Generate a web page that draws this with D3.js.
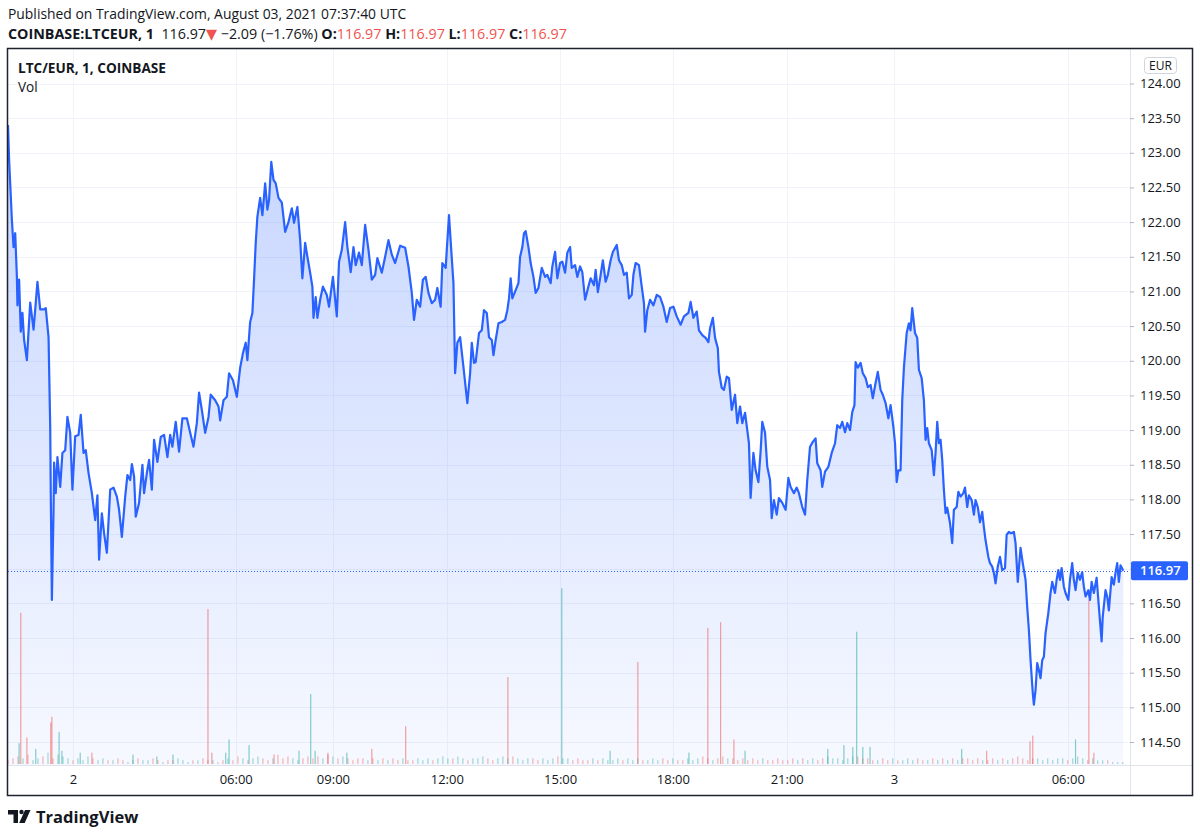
<!DOCTYPE html>
<meta charset="utf-8">
<script src="https://cdnjs.cloudflare.com/ajax/libs/d3/7.8.5/d3.min.js"></script>
<style>
  body { margin: 0; background: #fff; }
  text { font-family: "Open Sans", "DejaVu Sans", sans-serif; fill: #131722; }
</style>
<div id="chart"></div>
<script>

// price samples: [bar number, close]
const priceA = [[0,123.40],[2,122.90],[7,122.03],[10,121.64],[13,121.84],[16,121.21],[17,120.80],[20,121.17],[23,120.42],[26,120.69],[29,120.30],[34,120.01],[40,120.84],[46,120.45],[50,120.84],[53,121.14],[58,120.74],[64,120.74],[68,120.76],[73,120.34],[76,119.05],[77,118.09],[79,116.55],[82,117.85],[83,118.53],[86,118.09],[89,118.61],[94,118.18],[98,118.67],[103,118.71],[107,119.19],[112,118.96],[116,118.14],[121,118.91],[127,118.93],[131,119.22],[136,118.67],[140,118.71],[145,118.38],[151,118.09],[157,117.70],[161,118.06],[164,117.13],[169,117.80],[173,117.51],[178,117.23],[184,118.14],[190,118.17],[196,118.04],[200,117.85],[205,117.46],[211,118.04],[215,118.35],[220,118.28],[223,118.51],[227,118.33],[230,117.75],[236,117.95],[242,118.50],[245,118.09],[250,118.38],[254,118.57],[259,118.14],[263,118.86],[269,118.54],[275,118.90],[281,118.93],[287,118.61],[292,118.93],[296,118.76],[302,119.12],[308,118.69],[314,119.17],[322,119.17],[328,118.96],[334,118.76],[340,119.10],[344,119.54],[349,119.29],[355,118.96],[361,119.19],[365,119.51],[373,119.43],[379,119.34],[382,119.14],[388,119.43],[394,119.48],[398,119.82]]
const priceB = [[405,119.72],[412,119.48],[418,119.90],[423,120.11],[428,120.26],[431,120.01],[436,120.56],[440,120.69],[443,121.17],[446,121.70],[449,122.08],[454,122.35],[458,122.10],[463,122.56],[467,122.18],[470,122.32],[474,122.87],[478,122.61],[482,122.56],[487,122.35],[493,122.28],[499,121.86],[505,122.00],[511,122.20],[515,121.99],[521,122.22],[526,121.74],[530,121.19],[535,121.70],[539,121.50],[544,121.27],[548,121.07],[550,120.62],[554,120.92],[557,120.62],[562,120.88],[567,121.07],[574,120.95],[578,120.78],[585,121.21],[592,120.64],[596,121.43],[601,121.60],[607,122.00],[611,121.64],[617,121.28],[622,121.64],[626,121.38],[632,121.56],[637,121.38],[643,121.96],[649,121.60],[655,121.17],[661,121.24],[665,121.48],[673,121.27],[679,121.50],[685,121.74],[691,121.53],[697,121.41],[706,121.66],[715,121.63],[721,121.36],[727,120.98],[731,120.59],[736,120.88],[742,120.78],[747,121.17],[752,121.21],[757,120.98],[763,120.83],[769,120.88],[773,121.05],[779,120.78],[782,121.41],[788,121.34],[790,121.60],[794,122.10],[798,121.60],[802,121.12],[805,119.82],[809,120.26],[814,120.34]]
const priceC = [[820,119.91],[827,119.39],[832,119.82],[835,120.26],[839,119.97],[842,119.98],[848,120.40],[853,120.44],[857,120.73],[862,120.69],[866,120.34],[871,120.30],[874,120.08],[878,120.30],[883,120.54],[889,120.56],[895,120.59],[899,120.73],[902,120.90],[905,121.19],[908,120.90],[914,121.02],[919,121.12],[922,121.50],[926,121.64],[929,121.84],[932,121.87],[937,121.64],[941,121.41],[946,121.21],[950,120.98],[955,121.05],[961,121.34],[967,121.21],[971,121.24],[977,121.12],[980,121.36],[985,121.57],[989,121.19],[994,121.41],[998,121.43],[1003,121.27],[1007,121.56],[1012,121.64],[1015,121.34],[1021,121.38],[1025,121.21],[1030,121.36],[1034,121.28],[1039,120.88],[1045,121.07],[1049,121.19],[1055,121.09],[1058,121.31],[1062,120.99],[1067,121.24],[1071,121.45],[1076,121.14],[1080,121.24],[1085,121.45],[1089,121.57],[1096,121.67],[1100,121.45],[1105,121.38],[1109,121.24],[1114,121.27],[1118,120.90],[1123,120.95],[1126,121.24],[1130,121.41],[1136,121.38],[1141,121.07],[1145,120.83],[1147,120.42],[1151,120.73],[1156,120.88],[1162,120.80],[1168,120.95],[1174,120.92],[1180,120.78],[1186,120.56],[1192,120.76],[1198,120.78],[1204,120.64],[1211,120.52],[1217,120.64],[1225,120.69],[1229,120.85]]
const priceD = [[1234,120.62],[1240,120.71],[1244,120.44],[1250,120.37],[1256,120.33],[1261,120.27],[1264,120.47],[1269,120.62],[1273,120.33],[1278,120.18],[1280,119.84],[1285,119.61],[1289,119.58],[1294,119.77],[1298,119.75],[1303,119.29],[1309,119.51],[1313,119.10],[1318,119.34],[1322,119.10],[1327,119.25],[1331,119.00],[1334,118.81],[1337,118.02],[1342,118.67],[1346,118.42],[1351,118.25],[1355,118.69],[1358,119.12],[1363,118.96],[1367,118.47],[1372,118.28],[1375,117.73],[1379,117.99],[1384,117.78],[1388,118.02],[1394,117.95],[1400,117.85],[1405,118.31],[1409,118.18],[1415,118.09],[1420,118.17],[1424,118.09],[1430,117.89],[1435,117.78],[1439,118.28],[1444,118.76],[1449,118.83],[1454,118.88],[1457,118.52],[1463,118.42],[1466,118.18],[1471,118.40],[1477,118.47],[1483,118.67],[1489,118.81],[1493,119.07],[1498,119.03],[1502,119.12],[1507,118.97],[1511,119.10],[1516,119.00],[1520,119.26],[1524,119.36],[1526,119.98],[1530,119.90],[1535,119.97],[1539,119.82],[1544,119.75],[1548,119.62],[1553,119.65],[1557,119.46],[1562,119.68],[1566,119.84],[1571,119.58],[1575,119.51],[1580,119.39],[1585,119.17],[1589,119.36],[1594,119.05],[1597,118.81],[1600,118.25],[1603,118.42],[1607,118.42],[1610,119.43],[1613,119.90],[1618,120.40],[1622,120.54],[1625,120.44],[1628,120.76],[1633,120.40],[1637,120.33],[1640,119.87],[1645,119.75],[1649,119.43]]
const priceE = [[1652,118.86],[1655,119.03],[1658,118.81],[1663,118.71],[1667,118.35],[1670,118.67],[1673,119.12],[1676,118.81],[1679,118.86],[1682,118.57],[1685,118.14],[1688,117.80],[1691,117.88],[1696,117.66],[1700,117.37],[1703,117.85],[1708,117.89],[1711,118.11],[1715,118.04],[1720,118.09],[1723,118.17],[1727,117.89],[1730,118.06],[1735,117.99],[1739,117.78],[1742,117.99],[1746,117.89],[1750,117.67],[1754,117.82],[1757,117.60],[1760,117.41],[1765,117.17],[1768,117.08],[1772,117.03],[1775,116.94],[1778,116.79],[1782,117.03],[1786,117.17],[1790,116.98],[1795,117.01],[1798,117.49],[1802,117.53],[1806,117.51],[1811,117.53],[1814,117.37],[1818,116.81],[1823,117.30],[1827,117.08],[1832,116.84],[1835,116.45],[1838,116.12],[1841,115.68],[1845,115.21],[1847,115.04],[1850,115.25],[1853,115.64],[1856,115.54],[1859,115.42],[1862,115.68],[1865,115.73],[1868,116.07],[1873,116.36],[1877,116.65],[1880,116.81],[1885,116.65],[1888,116.84],[1891,116.98],[1894,116.84],[1897,117.01],[1901,116.74],[1904,116.65],[1909,116.55],[1912,116.84],[1916,117.08],[1919,116.84],[1922,116.69],[1926,116.94],[1930,116.84],[1934,116.95],[1937,116.74],[1940,116.60],[1945,116.69],[1948,116.55],[1951,116.81],[1955,116.65],[1960,116.87],[1964,116.45],[1969,115.95],[1971,116.31],[1976,116.69],[1979,116.60],[1982,116.40],[1987,116.88],[1991,116.77],[1994,116.94],[1997,117.08],[2000,116.81],[2003,117.05],[2008,116.97]]

// the bigger volume bars: bar number, volume, up/down
const spikeBars  = [20, 23, 34, 50, 77, 79, 92, 97, 130, 151, 225, 268, 297, 360, 367, 392, 398, 434, 479, 524, 545, 553, 576, 610, 655, 716, 900, 997, 1084, 1134, 1226, 1260, 1283, 1307, 1327, 1476, 1505, 1521, 1528, 1539, 1552, 1717, 1762, 1840, 1845, 1922, 1946, 1955]
const spikeVols  = [11, 80, 14, 8, 22, 25, 17, 7, 6, 6, 5, 4, 5, 82, 6, 6, 13, 10, 5, 7, 37, 7, 6, 6, 8, 20, 46, 93, 7, 54, 6, 72, 75, 13, 7, 8, 10, 9, 70, 9, 9, 8, 7, 12, 15, 13, 87, 6]
const spikeSides = ["u","d","d","u","d","d","u","u","u","d","u","u","u","d","d","u","u","u","d","u","u","u","d","u","d","d","d","u","u","d","u","d","d","d","u","u","u","u","u","u","u","u","d","d","d","u","d","d"]

// small background volume, one value every 9 bars
const baseStep = 9
const baseVols = [2,3,4,3,5,2,3,4,6,3,5,4,3,2,
  3,2,4,3,2,3,2,2,3,2,1,2,3,2,2,3,
  2,1,2,2,3,2,1,2,2,3,2,2,1,2,3,2,
  4,3,2,3,4,3,2,3,5,3,4,3,2,3,4,3,
  4,3,5,4,3,4,3,2,3,3,2,3,2,3,2,3,
  2,3,2,2,3,2,3,2,3,4,3,3,4,3,2,3,
  3,4,3,2,3,4,3,4,3,2,3,3,2,3,2,3,
  4,3,3,2,3,2,2,3,2,3,2,2,3,2,3,2,
  3,2,2,3,2,3,2,3,2,2,3,2,3,4,3,2,
  3,4,3,3,2,3,2,3,2,3,2,2,3,2,2,3,
  2,3,2,3,2,3,4,3,3,2,3,4,4,3,3,2,
  2,3,2,3,2,2,3,2,3,2,2,3,2,3,2,3,
  2,3,3,2,3,2,2,3,2,3,2,3,4,3,2,3,
  3,2,3,2,3,3,2,3,4,3,2,3,2,2,2,1,
  1,1]

const timeTickBars   = [117, 410, 585, 790, 994, 1197, 1402, 1595, 1908]
const timeTickLabels = ["2", "06:00", "09:00", "12:00", "15:00", "18:00", "21:00", "3", "06:00"]
const priceTicks = [124, 123.5, 123, 122.5, 122, 121.5, 121, 120.5, 120, 119.5, 119, 118.5, 118, 117.5, 117, 116.5, 116, 115.5, 115, 114.5]
const lastPrice = 116.97

const prices = priceA.concat(priceB, priceC, priceD, priceE)

const blue = "#2962ff", upCol = "#26a69a", downCol = "#ef5350"

const svg = d3.select("#chart").append("svg")
    .attr("width", 1200)
    .attr("height", 837)

const paneL = 8, paneR = 1130, paneT = 49, paneB = 765

const x = d3.scaleLinear()
  .domain([0, d3.max(prices, d => d[0])])
  .range([8, 1123.3])
const y = d3.scaleLinear()
  .domain([114.5, 124])
  .range([742, 83.5])
const v = d3.scaleLinear()
  .domain([0, 100])
  .range([764, 575])

// grid
svg.append("g").selectAll("line").data(priceTicks).join("line")
  .attr("x1", paneL).attr("x2", paneR)
  .attr("y1", d => Math.round(y(d)) + 0.5).attr("y2", d => Math.round(y(d)) + 0.5)
  .attr("stroke", "#f0f3fa")
svg.append("g").selectAll("line").data(timeTickBars).join("line")
  .attr("x1", d => Math.round(x(d)) + 0.5).attr("x2", d => Math.round(x(d)) + 0.5)
  .attr("y1", paneT).attr("y2", paneB)
  .attr("stroke", "#f0f3fa")

// area under the line
const grad = svg.append("defs").append("linearGradient")
    .attr("id", "fade").attr("gradientUnits", "userSpaceOnUse")
    .attr("x1", 0).attr("x2", 0).attr("y1", 83).attr("y2", paneB)
grad.append("stop").attr("offset", 0).attr("stop-color", blue).attr("stop-opacity", 0.28)
grad.append("stop").attr("offset", 1).attr("stop-color", blue).attr("stop-opacity", 0.04)

svg.append("path")
  .datum(prices)
  .attr("fill", "url(#fade)")
  .attr("d", d3.area().x(d => x(d[0])).y0(paneB).y1(d => y(d[1])))

// volume
function sideAt(bar) {
    const i = Math.max(1, d3.bisector(d => d[0]).right(prices, bar) - 1)
    return prices[i][1] >= prices[i - 1][1] ? "u" : "d"
}
svg.append("g").selectAll("rect").data(baseVols).join("rect")
  .attr("x", (d, i) => x(i * baseStep) - 0.5)
  .attr("width", 1)
  .attr("y", d => v(d))
  .attr("height", d => v(0) - v(d))
  .attr("fill", (d, i) => sideAt(i * baseStep) == "u" ? upCol : downCol)
  .attr("fill-opacity", 0.5)
svg.append("g").selectAll("rect").data(spikeBars).join("rect")
  .attr("x", d => x(d) - 0.6)
  .attr("width", 1.2)
  .attr("y", (d, i) => v(spikeVols[i]))
  .attr("height", (d, i) => v(0) - v(spikeVols[i]))
  .attr("fill", (d, i) => spikeSides[i] == "u" ? upCol : downCol)
  .attr("fill-opacity", 0.55)

// last price dotted line
svg.append("line")
  .attr("x1", paneL).attr("x2", paneR)
  .attr("y1", Math.round(y(lastPrice)) + 0.5).attr("y2", Math.round(y(lastPrice)) + 0.5)
  .attr("stroke", blue).attr("stroke-dasharray", "1,2")

// price line
svg.append("path")
  .datum(prices)
  .attr("fill", "none")
  .attr("stroke", blue)
  .attr("stroke-width", 2.2)
  .attr("stroke-linejoin", "round")
  .attr("d", d3.line().x(d => x(d[0])).y(d => y(d[1])))

// separators and frame
svg.append("line").attr("x1", paneR + 0.5).attr("x2", paneR + 0.5).attr("y1", paneT).attr("y2", 796).attr("stroke", "#e0e3eb")
svg.append("line").attr("x1", paneL).attr("x2", 1192).attr("y1", paneB + 0.5).attr("y2", paneB + 0.5).attr("stroke", "#e0e3eb")
svg.append("rect")
  .attr("x", 7.5).attr("y", 48.5).attr("width", 1185).attr("height", 747)
  .attr("fill", "none").attr("stroke", "#1e222d").attr("stroke-width", 1.5)

// price axis
const yAxis = svg.append("g")
  .attr("transform", "translate(" + paneR + ",0)")
  .call(d3.axisRight(y).tickValues(priceTicks).tickFormat(d3.format(".2f")).tickSize(4).tickPadding(6))
yAxis.select(".domain").remove()
yAxis.selectAll("line").attr("stroke", "#b2b5be")
yAxis.selectAll("text").style("font-size", "13px").style("font-family", null).attr("fill", "#131722")

// time axis
const xAxis = svg.append("g")
  .attr("transform", "translate(0," + paneB + ")")
  .call(d3.axisBottom(x).tickValues(timeTickBars).tickFormat((d, i) => timeTickLabels[i]).tickSize(0).tickPadding(10))
xAxis.select(".domain").remove()
xAxis.selectAll("text").style("font-size", "13px").style("font-family", null).attr("fill", "#131722")

// currency badge
svg.append("rect").attr("x", 1144.5).attr("y", 57.5).attr("width", 32).attr("height", 16).attr("rx", 3)
  .attr("fill", "#fff").attr("stroke", "#d1d4dc")
svg.append("text").attr("x", 1160.5).attr("y", 70).attr("text-anchor", "middle").style("font-size", "12px").text("EUR")

// last price badge
const ly = y(lastPrice)
svg.append("rect").attr("x", paneR + 1).attr("y", ly - 9.5).attr("width", 57).attr("height", 19).attr("rx", 2).attr("fill", blue)
svg.append("text").attr("x", 1140).attr("y", ly + 4.5)
  .style("font-size", "13px").style("font-weight", "600").style("fill", "#fff").text(lastPrice.toFixed(2))

// header
svg.append("text").attr("x", 8).attr("y", 19).style("font-size", "13.9px").attr("fill", "#131722")
  .text("Published on TradingView.com, August 03, 2021 07:37:40 UTC")

const red = "#ef5350"
const hdr = svg.append("text").attr("x", 8).attr("y", 38.5).style("font-size", "14.3px")
const parts = [
  ["COINBASE:LTCEUR, 1", 700, null],
  ["  116.97", 400, null],
  ["\u25BC", 400, red],
  [" \u22122.09 (\u22121.76%) ", 400, null],
  ["O:", 700, null], ["116.97", 400, red],
  [" H:", 700, null], ["116.97", 400, red],
  [" L:", 700, null], ["116.97", 400, red],
  [" C:", 700, null], ["116.97", 400, red]
]
parts.forEach(p => {
    const t = hdr.append("tspan").style("font-weight", p[1]).style("white-space", "pre").text(p[0])
    if (p[2]) t.style("fill", p[2])
})

// legend
svg.append("text").attr("x", 18).attr("y", 73).style("font-size", "13.6px").style("font-weight", 700).text("LTC/EUR, 1, COINBASE")
svg.append("text").attr("x", 18).attr("y", 92).style("font-size", "13.6px").text("Vol")

// logo
const logo = svg.append("g").attr("fill", "#131722")
logo.append("path").attr("d", "M8,810 h10 v13 h-4.5 v-8.5 h-5.5 z")
logo.append("circle").attr("cx", 21.5).attr("cy", 812).attr("r", 2.2)
logo.append("path").attr("d", "M25,810 h5.5 l-5.8,13 h-5.5 z")
svg.append("text").attr("x", 36).attr("y", 822.5).style("font-size", "16.5px").style("font-weight", 700).text("TradingView")

</script>
